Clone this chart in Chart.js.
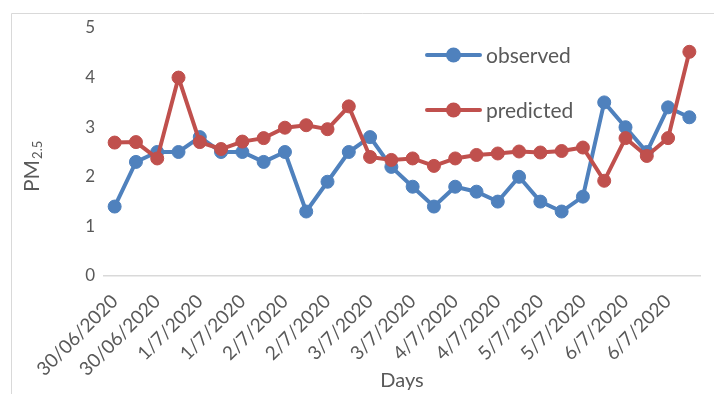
<!DOCTYPE html>
<html>
<head>
<meta charset="utf-8">
<title>PM2.5 observed vs predicted</title>
<script src="https://cdn.jsdelivr.net/npm/chart.js@4/dist/chart.umd.min.js"></script>
<style>
  html, body { margin: 0; padding: 0; background: #ffffff; }
  #wrap { width: 714px; height: 394px; }
</style>
</head>
<body>
<div id="wrap"><canvas id="chart" width="714" height="394"></canvas></div>
<script>
// Six-hourly readings, four per day
const categories = [
  '30/06/2020', '30/06/2020', '30/06/2020', '30/06/2020',
  '1/7/2020', '1/7/2020', '1/7/2020', '1/7/2020',
  '2/7/2020', '2/7/2020', '2/7/2020', '2/7/2020',
  '3/7/2020', '3/7/2020', '3/7/2020', '3/7/2020',
  '4/7/2020', '4/7/2020', '4/7/2020', '4/7/2020',
  '5/7/2020', '5/7/2020', '5/7/2020', '5/7/2020',
  '6/7/2020', '6/7/2020', '6/7/2020', '6/7/2020'
];

const observed = [
  1.4, 2.3, 2.5, 2.5, 2.8, 2.5, 2.5, 2.3, 2.5, 1.3, 1.9, 2.5, 2.8, 2.2,
  1.8, 1.4, 1.8, 1.7, 1.5, 2.0, 1.5, 1.3, 1.6, 3.5, 3.0, 2.5, 3.4, 3.2
];

const predicted = [
  2.69, 2.70, 2.37, 4.00, 2.70, 2.56, 2.71, 2.78, 2.99, 3.04, 2.96, 3.42, 2.40, 2.34,
  2.37, 2.22, 2.37, 2.44, 2.47, 2.51, 2.49, 2.52, 2.59, 1.92, 2.78, 2.42, 2.78, 4.52
];

const yTicks = [0, 1, 2, 3, 4, 5];

const seriesNames = ['observed', 'predicted'];
const BLUE = '#4f81bd';
const RED = '#c0504d';
const TEXT = '#595959';
const FRAME = '#d9d9d9';

// Thin frame round the chart (top and left edges)
const framePlugin = {
  id: 'frame',
  beforeDraw(chart) {
    const ctx = chart.ctx;
    ctx.save();
    ctx.fillStyle = '#ffffff';
    ctx.fillRect(0, 0, chart.width, chart.height);
    ctx.strokeStyle = FRAME;
    ctx.lineWidth = 1;
    ctx.beginPath();
    ctx.moveTo(11.5, chart.height);
    ctx.lineTo(11.5, 13.5);
    ctx.lineTo(chart.width, 13.5);
    ctx.stroke();
    ctx.restore();
  }
};

// Vertical axis title with a subscript: PM(2.5)
const yTitlePlugin = {
  id: 'yTitle',
  afterDraw(chart) {
    const ctx = chart.ctx;
    ctx.save();
    ctx.fillStyle = TEXT;
    ctx.translate(39, 192);
    ctx.rotate(-Math.PI / 2);
    ctx.textAlign = 'left';
    ctx.textBaseline = 'alphabetic';
    ctx.font = '21px Lato';
    ctx.fillText('PM', 0, 0);
    const w = ctx.measureText('PM').width;
    ctx.font = '13px Lato';
    ctx.fillText('2.5', w + 1, 3);
    ctx.restore();
  }
};

// Legend drawn inside the plot, stacked vertically
const insideLegend = {
  id: 'insideLegend',
  afterDatasetsDraw(chart) {
    const ctx = chart.ctx;
    const rows = [55, 110];
    ctx.save();
    chart.data.datasets.forEach((ds, i) => {
      const y = rows[i];
      ctx.strokeStyle = ds.borderColor;
      ctx.lineWidth = ds.borderWidth;
      ctx.lineCap = 'round';
      ctx.beginPath();
      ctx.moveTo(427, y);
      ctx.lineTo(480, y);
      ctx.stroke();
      ctx.fillStyle = ds.pointBackgroundColor;
      ctx.beginPath();
      ctx.arc(453.5, y, 7.5, 0, Math.PI * 2);
      ctx.fill();
      ctx.fillStyle = TEXT;
      ctx.font = '21px Lato';
      ctx.textAlign = 'left';
      ctx.textBaseline = 'middle';
      ctx.fillText(ds.label, 486, y + 1);
    });
    ctx.restore();
  }
};

function build() {
  Chart.defaults.font.family = 'Lato';
  Chart.defaults.color = TEXT;

  new Chart(document.getElementById('chart'), {
    type: 'line',
    data: {
      labels: categories,
      datasets: [
        {
          label: seriesNames[0],
          data: observed,
          borderColor: BLUE,
          backgroundColor: BLUE,
          pointBackgroundColor: BLUE,
          pointBorderColor: BLUE,
          borderWidth: 4,
          pointRadius: 6.5,
          pointBorderWidth: 1,
          tension: 0,
          order: 1
        },
        {
          label: seriesNames[1],
          data: predicted,
          borderColor: RED,
          backgroundColor: RED,
          pointBackgroundColor: RED,
          pointBorderColor: RED,
          borderWidth: 4,
          pointRadius: 6.5,
          pointBorderWidth: 1,
          tension: 0,
          order: 0
        }
      ]
    },
    options: {
      responsive: false,
      animation: false,
      layout: { padding: { left: 0, right: 14, top: 28, bottom: 0 } },
      plugins: {
        legend: { display: false },
        tooltip: { enabled: false }
      },
      scales: {
        x: {
          offset: true,
          grid: { display: false, drawTicks: false },
          border: { display: true, color: FRAME, width: 1.5 },
          ticks: {
            autoSkip: false,
            minRotation: 45,
            maxRotation: 45,
            padding: 14,
            color: TEXT,
            font: { size: 19 },
            callback: function (value, index) {
              return index % 2 === 0 ? this.getLabelForValue(value) : '';
            }
          },
          title: {
            display: true,
            text: 'Days',
            color: TEXT,
            font: { size: 20 },
            padding: { top: 0, bottom: 1 }
          },
          afterFit(scale) {
            scale.height = 118;
            // rotated labels may overflow the frame on the left; keep the plot width fixed
            scale.paddingLeft = 0;
            scale.paddingRight = 0;
          }
        },
        y: {
          min: 0,
          max: 5,
          afterBuildTicks(scale) {
            scale.ticks = yTicks.map(v => ({ value: v }));
          },
          grid: { display: false, drawTicks: false },
          border: { display: false },
          ticks: {
            padding: 9,
            color: TEXT,
            font: { size: 17 }
          },
          afterFit(scale) {
            scale.width = 104;
            scale.paddingTop = 0;
            scale.paddingBottom = 0;
          }
        }
      }
    },
    plugins: [framePlugin, yTitlePlugin, insideLegend]
  });
}

if (document.fonts && document.fonts.load) {
  Promise.all([
    document.fonts.load('16px Lato'),
    document.fonts.load('21px Lato')
  ]).then(build, build);
} else {
  build();
}
</script>
</body>
</html>
